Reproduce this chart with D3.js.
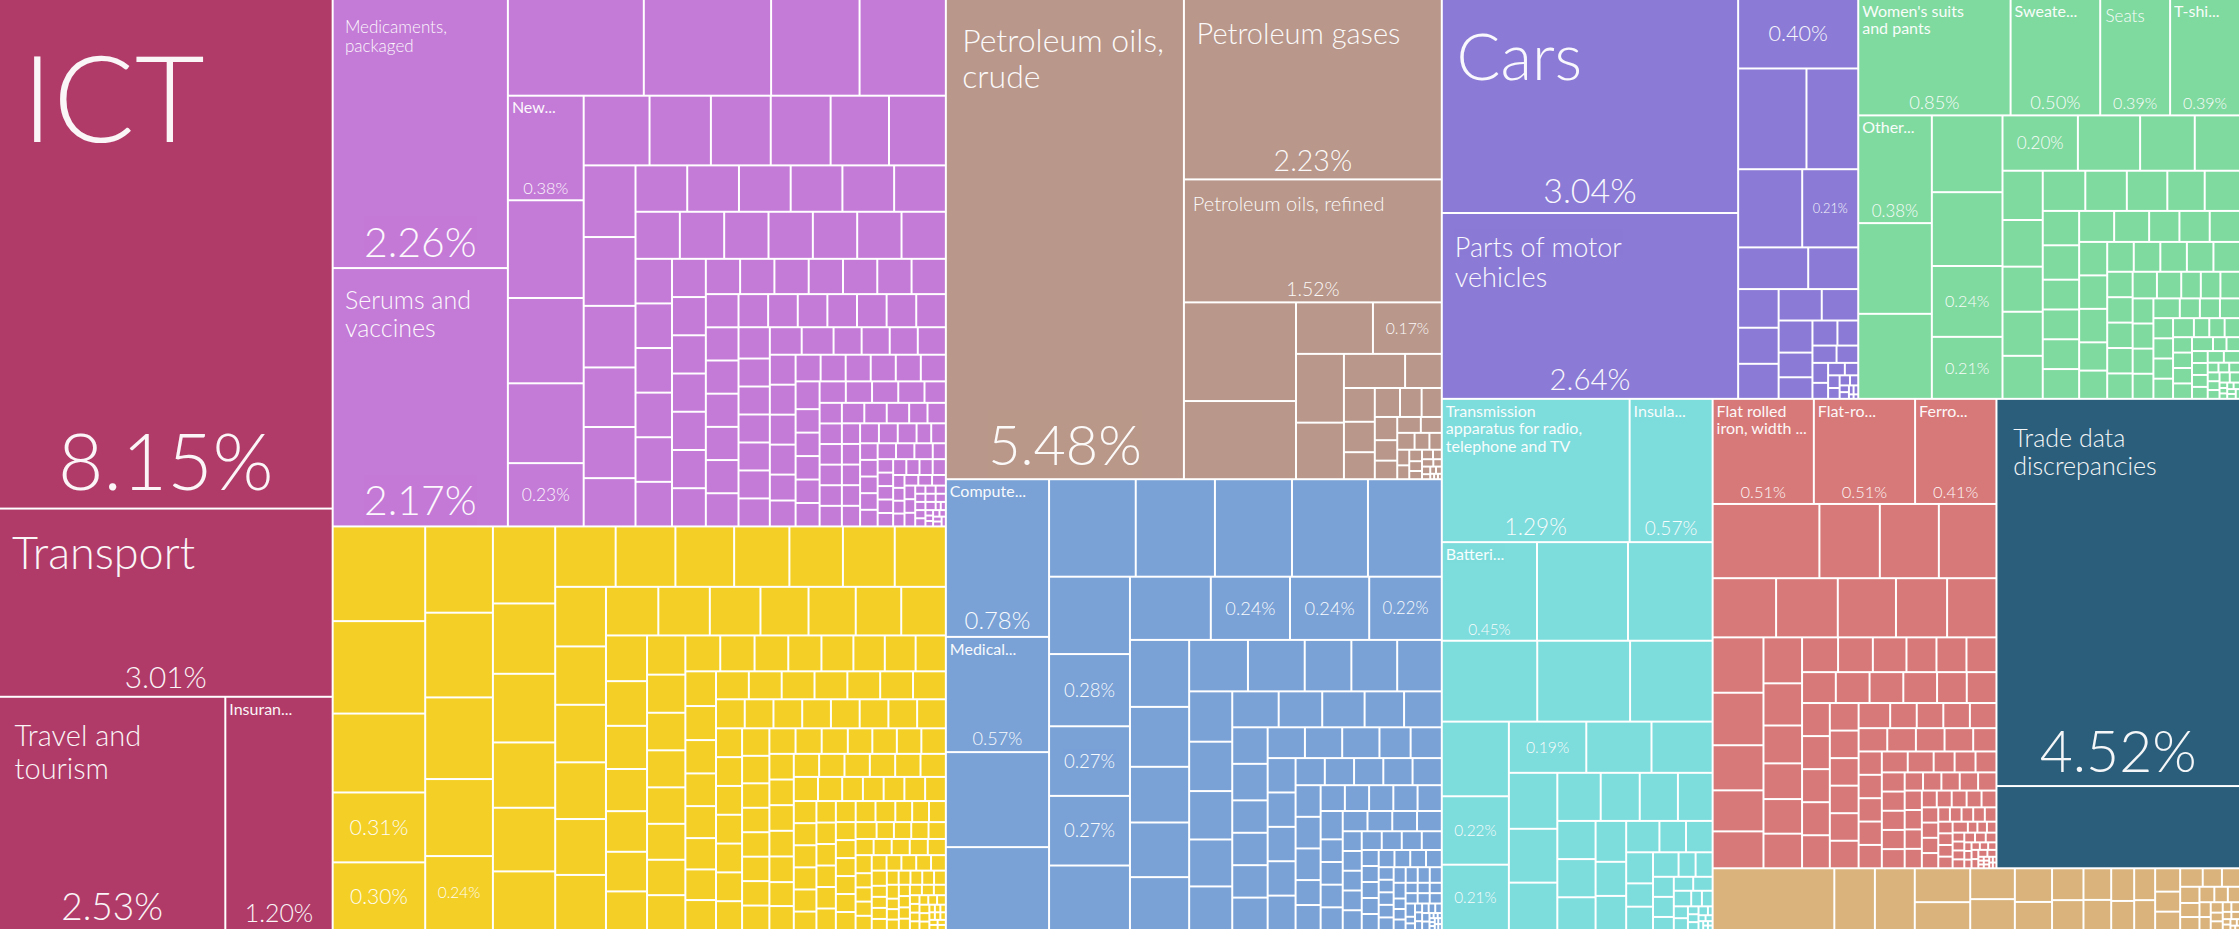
<!DOCTYPE html>
<html>
<head>
<meta charset="utf-8">
<script src="https://cdn.jsdelivr.net/npm/d3@7"></script>
<style>
  html, body { margin: 0; padding: 0; background: #fff; }
  svg { display: block; }
  text { font-family: "Source Sans Pro", Lato, "Noto Sans", sans-serif; fill: #fff; }
</style>
</head>
<body>
<div id="chart"></div>
<script>
var width = 2239;
var height = 929;

// Sector names and colours
var sectorNames = ["Services", "Chemicals", "Agriculture", "Minerals", "Machinery", "Vehicles",
  "Textiles", "Electronics", "Metals", "Other", "Stone"];
var sectorColors = ["#b03b69", "#c47ad7", "#f4d026", "#b9978a", "#7aa2d7", "#8b7bd6",
  "#7fdaa0", "#7ddcdc", "#d87979", "#2b5e7b", "#d9b37b"];

// Share of exports (%) for each product, largest first, one list per sector
var servicesValues = [8.15, 3.01, 2.53, 1.20];
var servicesTitles = ["ICT", "Transport", "Travel and tourism", "Insuran..."];
var servicesShares = [];

var chemicalsValues = [2.26, 2.17, 0.63, 0.59, 0.41, 0.40, 0.38, 0.355, 0.31, 0.29, 0.23,
  0.22, 0.205, 0.20, 0.20, 0.195, 0.19,
  0.178, 0.171, 0.153, 0.148, 0.127, 0.12,
  0.115, 0.115, 0.115, 0.115, 0.115, 0.115,
  0.10, 0.10, 0.10, 0.10, 0.10, 0.10, 0.10,
  0.078, 0.078, 0.078, 0.078, 0.078, 0.078,
  0.062, 0.062, 0.062, 0.062, 0.062, 0.062, 0.062,
  0.058, 0.058, 0.058, 0.058, 0.058, 0.058, 0.058,
  0.052, 0.052, 0.052, 0.052, 0.052, 0.052, 0.052,
  0.047, 0.047, 0.047, 0.047, 0.047, 0.047, 0.047, 0.047,
  0.042, 0.042, 0.042, 0.042, 0.042, 0.042, 0.042, 0.042,
  0.037, 0.037, 0.037, 0.037, 0.037, 0.037, 0.037, 0.037,
  0.032, 0.032, 0.032, 0.032, 0.032, 0.032, 0.032, 0.032, 0.032,
  0.027, 0.027, 0.027, 0.027, 0.027, 0.027, 0.027, 0.027, 0.027,
  0.022, 0.022, 0.022, 0.022, 0.022, 0.022, 0.022, 0.022, 0.022, 0.022,
  0.018, 0.018, 0.018, 0.018, 0.018, 0.018, 0.018, 0.018, 0.018, 0.018,
  0.014, 0.014, 0.014, 0.014, 0.014, 0.014, 0.014, 0.014, 0.014, 0.014,
  0.010, 0.010, 0.010, 0.010, 0.010, 0.010, 0.010, 0.010, 0.010, 0.010,
  0.007, 0.007, 0.007, 0.007, 0.007, 0.007, 0.007, 0.007, 0.007, 0.007,
  0.004, 0.004, 0.004, 0.004, 0.004, 0.004, 0.004, 0.004, 0.004, 0.004,
  0.002, 0.002, 0.002, 0.002, 0.002, 0.002, 0.002, 0.002, 0.002, 0.002];
var chemicalsTitles = ["Medicaments, packaged", "Serums and vaccines", null, null, null, null, "New..."];
var chemicalsShares = [10];

var agricultureValues = [0.42, 0.41, 0.35, 0.31, 0.30,
  0.28, 0.275, 0.265, 0.25, 0.24,
  0.23, 0.21, 0.205, 0.195, 0.19, 0.175,
  0.175, 0.173, 0.17, 0.16, 0.155, 0.15, 0.148,
  0.145, 0.142, 0.14, 0.138, 0.136, 0.134,
  0.122, 0.12, 0.118, 0.112, 0.11, 0.106, 0.104,
  0.09, 0.088, 0.085, 0.083, 0.08, 0.078, 0.076,
  0.072, 0.07, 0.069, 0.068, 0.067, 0.066, 0.065, 0.064,
  0.06, 0.059, 0.058, 0.057, 0.055, 0.054, 0.053,
  0.052, 0.051, 0.05, 0.049, 0.048, 0.047, 0.046, 0.045,
  0.044, 0.044, 0.044, 0.044, 0.044, 0.044, 0.044, 0.044,
  0.040, 0.040, 0.040, 0.040, 0.040, 0.040, 0.040, 0.040,
  0.036, 0.036, 0.036, 0.036, 0.036, 0.036, 0.036, 0.036, 0.036,
  0.032, 0.032, 0.032, 0.032, 0.032, 0.032, 0.032, 0.032, 0.032,
  0.030, 0.030, 0.030, 0.030, 0.030, 0.030, 0.030, 0.030, 0.030,
  0.028, 0.028, 0.028, 0.028, 0.028, 0.028, 0.028, 0.028, 0.028, 0.028,
  0.024, 0.024, 0.024, 0.024, 0.024, 0.024, 0.024, 0.024, 0.024, 0.024,
  0.020, 0.020, 0.020, 0.020, 0.020, 0.020, 0.020, 0.020, 0.020, 0.020,
  0.017, 0.017, 0.017, 0.017, 0.017, 0.017, 0.017, 0.017, 0.017, 0.017,
  0.014, 0.014, 0.014, 0.014, 0.014, 0.014, 0.014, 0.014, 0.014, 0.014,
  0.011, 0.011, 0.011, 0.011, 0.011, 0.011, 0.011, 0.011, 0.011, 0.011,
  0.008, 0.008, 0.008, 0.008, 0.008, 0.008, 0.008, 0.008, 0.008, 0.008,
  0.006, 0.006, 0.006, 0.006, 0.006, 0.006, 0.006, 0.006, 0.006, 0.006,
  0.004, 0.004, 0.004, 0.004, 0.004, 0.004, 0.004, 0.004, 0.004, 0.004,
  0.002, 0.002, 0.002, 0.002, 0.002, 0.002, 0.002, 0.002, 0.002, 0.002];
var agricultureTitles = [];
var agricultureShares = [3, 4, 9];

var mineralsValues = [5.48, 2.23, 1.52, 0.53, 0.42, 0.19, 0.17, 0.158, 0.13, 0.10,
  0.06, 0.05, 0.045, 0.04, 0.035, 0.03, 0.028, 0.025, 0.022, 0.02, 0.018, 0.016, 0.014,
  0.012, 0.01, 0.009, 0.008, 0.007, 0.006, 0.005, 0.005, 0.004, 0.004, 0.003, 0.003,
  0.002, 0.002, 0.002, 0.001, 0.001, 0.001];
var mineralsTitles = ["Petroleum oils, crude", "Petroleum gases", "Petroleum oils, refined"];
var mineralsShares = [6];

var machineryValues = [0.78, 0.57, 0.47, 0.41,
  0.405, 0.37, 0.36, 0.355, 0.345,
  0.30, 0.28, 0.27, 0.27, 0.25,
  0.245, 0.24, 0.24, 0.22,
  0.19, 0.17, 0.158, 0.155, 0.15,
  0.145, 0.14, 0.115, 0.113, 0.11,
  0.104, 0.102, 0.10, 0.097, 0.09,
  0.08, 0.075, 0.073, 0.068, 0.065,
  0.062, 0.062,
  0.055, 0.055, 0.055, 0.055, 0.055, 0.055, 0.055,
  0.046, 0.046, 0.046, 0.046, 0.046, 0.046, 0.046,
  0.038, 0.038, 0.038, 0.038, 0.038, 0.038, 0.038, 0.038,
  0.030, 0.030, 0.030, 0.030, 0.030, 0.030, 0.030, 0.030,
  0.024, 0.024, 0.024, 0.024, 0.024, 0.024, 0.024, 0.024,
  0.018, 0.018, 0.018, 0.018, 0.018, 0.018, 0.018, 0.018, 0.018,
  0.013, 0.013, 0.013, 0.013, 0.013, 0.013, 0.013, 0.013, 0.013,
  0.009, 0.009, 0.009, 0.009, 0.009, 0.009, 0.009, 0.009, 0.009, 0.009,
  0.006, 0.006, 0.006, 0.006, 0.006, 0.006, 0.006, 0.006, 0.006, 0.006,
  0.003, 0.003, 0.003, 0.003, 0.003, 0.003, 0.003, 0.003, 0.003, 0.003,
  0.001, 0.001, 0.001, 0.001, 0.001, 0.001, 0.001, 0.001, 0.001, 0.001];
var machineryTitles = ["Compute...", "Medical..."];
var machineryShares = [10, 11, 12, 15, 16, 17];

var vehiclesValues = [3.04, 2.64, 0.40, 0.33, 0.25, 0.24, 0.21, 0.14, 0.10, 0.075, 0.07,
  0.068, 0.065, 0.055, 0.052, 0.04, 0.035, 0.03, 0.025, 0.02, 0.018, 0.015, 0.012, 0.01,
  0.008, 0.007, 0.006, 0.005, 0.004, 0.003, 0.003, 0.002, 0.002, 0.001, 0.001];
var vehiclesTitles = ["Cars", "Parts of motor vehicles"];
var vehiclesShares = [2, 6];

var textilesValues = [0.85, 0.50, 0.39, 0.39, 0.38, 0.32, 0.30, 0.26, 0.25, 0.24, 0.21,
  0.20, 0.165, 0.145, 0.12, 0.095, 0.09, 0.087, 0.085, 0.083, 0.082, 0.08, 0.078, 0.072, 0.068,
  0.06, 0.06,
  0.052, 0.052, 0.052, 0.052, 0.052, 0.052,
  0.045, 0.045, 0.045, 0.045, 0.045, 0.045,
  0.038, 0.038, 0.038, 0.038, 0.038, 0.038, 0.038,
  0.031, 0.031, 0.031, 0.031, 0.031, 0.031, 0.031,
  0.025, 0.025, 0.025, 0.025, 0.025, 0.025, 0.025, 0.025,
  0.019, 0.019, 0.019, 0.019, 0.019, 0.019, 0.019, 0.019,
  0.014, 0.014, 0.014, 0.014, 0.014, 0.014, 0.014, 0.014,
  0.009, 0.009, 0.009, 0.009, 0.009, 0.009, 0.009, 0.009,
  0.005, 0.005, 0.005, 0.005, 0.005, 0.005, 0.005, 0.005,
  0.002, 0.002, 0.002, 0.002, 0.002, 0.002, 0.002, 0.002];
var textilesTitles = ["Women's suits and pants", "Sweate...", "Seats", "T-shi...", "Other..."];
var textilesShares = [9, 10, 11];

var electronicsValues = [1.29, 0.57, 0.45, 0.43, 0.40, 0.37, 0.36, 0.32, 0.24, 0.22, 0.21,
  0.19, 0.16, 0.15, 0.13, 0.125, 0.11, 0.10, 0.09, 0.088, 0.08,
  0.07, 0.07, 0.06, 0.06, 0.05, 0.05, 0.05, 0.04, 0.04, 0.04, 0.03, 0.03, 0.03,
  0.02, 0.02, 0.02, 0.02, 0.013, 0.013, 0.013, 0.013, 0.008, 0.008, 0.008, 0.008,
  0.004, 0.004, 0.004, 0.004, 0.002, 0.002, 0.002, 0.002, 0.001, 0.001, 0.001, 0.001];
var electronicsTitles = ["Transmission apparatus for radio, telephone and TV", "Insula...", "Batteri..."];
var electronicsShares = [9, 10, 11];

var metalsValues = [0.51, 0.51, 0.41, 0.38, 0.215, 0.21, 0.205, 0.18, 0.175, 0.165, 0.145,
  0.14, 0.135, 0.128, 0.11, 0.10, 0.09, 0.085, 0.078, 0.07, 0.066, 0.064, 0.064, 0.06,
  0.058, 0.056,
  0.05, 0.05, 0.05, 0.05, 0.05, 0.05, 0.05,
  0.044, 0.044, 0.044, 0.044, 0.044, 0.044, 0.044,
  0.038, 0.038, 0.038, 0.038, 0.038, 0.038, 0.038,
  0.032, 0.032, 0.032, 0.032, 0.032, 0.032, 0.032, 0.032,
  0.026, 0.026, 0.026, 0.026, 0.026, 0.026, 0.026, 0.026,
  0.021, 0.021, 0.021, 0.021, 0.021, 0.021, 0.021, 0.021,
  0.016, 0.016, 0.016, 0.016, 0.016, 0.016, 0.016, 0.016, 0.016,
  0.012, 0.012, 0.012, 0.012, 0.012, 0.012, 0.012, 0.012, 0.012,
  0.008, 0.008, 0.008, 0.008, 0.008, 0.008, 0.008, 0.008, 0.008, 0.008,
  0.005, 0.005, 0.005, 0.005, 0.005, 0.005, 0.005, 0.005, 0.005, 0.005,
  0.003, 0.003, 0.003, 0.003, 0.003, 0.003, 0.003, 0.003, 0.003, 0.003,
  0.001, 0.001, 0.001, 0.001, 0.001, 0.001, 0.001, 0.001, 0.001, 0.001];
var metalsTitles = ["Flat rolled iron, width ...", "Flat-ro...", "Ferro..."];
var metalsShares = [];

var otherValues = [4.52, 0.96];
var otherTitles = ["Trade data discrepancies"];
var otherShares = [];

var stoneValues = [0.36, 0.12, 0.118, 0.09, 0.074, 0.066, 0.066, 0.06, 0.05, 0.048, 0.045,
  0.042, 0.04, 0.036, 0.032, 0.032, 0.03, 0.028, 0.024, 0.022, 0.02, 0.017, 0.016, 0.015,
  0.013, 0.012, 0.011, 0.01, 0.009, 0.008, 0.007, 0.006, 0.005, 0.005, 0.004, 0.004,
  0.003, 0.003, 0.002, 0.002, 0.002, 0.001, 0.001, 0.001];
var stoneTitles = [];
var stoneShares = [];

// Build one node per sector from its lists
function sectorNode(i, values, titles, shares) {
  return {
    name: sectorNames[i],
    color: sectorColors[i],
    children: values.map(function(v, j) {
      return {value: v, title: titles[j] || null, share: shares.indexOf(j) >= 0};
    })
  };
}

var services = sectorNode(0, servicesValues, servicesTitles, servicesShares);
var chemicals = sectorNode(1, chemicalsValues, chemicalsTitles, chemicalsShares);
var agriculture = sectorNode(2, agricultureValues, agricultureTitles, agricultureShares);
var minerals = sectorNode(3, mineralsValues, mineralsTitles, mineralsShares);
var machinery = sectorNode(4, machineryValues, machineryTitles, machineryShares);
var vehicles = sectorNode(5, vehiclesValues, vehiclesTitles, vehiclesShares);
var textiles = sectorNode(6, textilesValues, textilesTitles, textilesShares);
var electronics = sectorNode(7, electronicsValues, electronicsTitles, electronicsShares);
var metals = sectorNode(8, metalsValues, metalsTitles, metalsShares);
var other = sectorNode(9, otherValues, otherTitles, otherShares);
var stone = sectorNode(10, stoneValues, stoneTitles, stoneShares);

// Arrangement of the sectors: columns and rows, products are squarified inside
var tree = {tile: "dice", children: [
  services,
  {tile: "slice", children: [chemicals, agriculture]},
  {tile: "slice", children: [minerals, machinery]},
  {tile: "slice", children: [
    {tile: "dice", children: [vehicles, textiles]},
    {tile: "dice", children: [electronics, {tile: "slice", children: [
      {tile: "dice", children: [metals, other]},
      stone
    ]}]}
  ]}
]};

// Plain squarify (aspect ratio 1) for the products inside a sector
var squarify = d3.treemapSquarify.ratio(1);

function tile(node, x0, y0, x1, y1) {
  var t = node.data.tile;
  if (t == "dice") d3.treemapDice(node, x0, y0, x1, y1);
  else if (t == "slice") d3.treemapSlice(node, x0, y0, x1, y1);
  else squarify(node, x0, y0, x1, y1);
}

var root = d3.hierarchy(tree).sum(function(d) { return d.value || 0; });
d3.treemap().size([width, height]).paddingInner(2).tile(tile)(root);

var svg = d3.select("#chart").append("svg")
    .attr("width", width)
    .attr("height", height);
var defs = svg.append("defs");

var leaves = root.leaves();

// Draw every product cell
svg.append("g").selectAll("rect")
  .data(leaves)
  .join("rect")
    .attr("x", function(d) { return d.x0; })
    .attr("y", function(d) { return d.y0; })
    .attr("width", function(d) { return Math.max(0, d.x1 - d.x0); })
    .attr("height", function(d) { return Math.max(0, d.y1 - d.y0); })
    .attr("fill", function(d) { return d.parent.data.color; });

// Hidden text used to measure strings
var ruler = svg.append("text").attr("x", -2000).attr("y", -2000).style("font-size", "100px");
function textWidth(str, weight) {
  ruler.style("font-weight", weight).text(str);
  return ruler.node().getComputedTextLength() / 100;
}

function wrap(words, fs, maxW, weight) {
  var lines = [], line = "";
  words.forEach(function(w) {
    var test = line ? line + " " + w : w;
    if (line && textWidth(test, weight) * fs > maxW) {
      lines.push(line);
      line = w;
    } else {
      line = test;
    }
  });
  if (line) lines.push(line);
  return lines;
}

// Pick a title size that fills the box, or fall back to a small label
function fitTitle(title, w, h) {
  var words = title.split(" ");
  var m = Math.min(w, h);
  if (title.slice(-3) != "...") {
    var total = textWidth(title, 300);
    var widest = d3.max(words, function(t) { return textWidth(t, 300); });
    var fs = Math.floor(Math.min(Math.sqrt(0.16 * w * h / (total * 1.2)), 0.6 * w / widest));
    while (fs >= 17) {
      var lines = wrap(words, fs, 0.88 * w, 300);
      if (lines.length * 1.12 * fs <= 0.5 * h) {
        return {size: fs, lines: lines, weight: 300, padX: 0.065 * m, padY: 0.1 * m + 0.1 * fs};
      }
      fs -= 1;
    }
  }
  // small label: narrow wrap first, wider if it needs too many lines
  var small = 16;
  var maxLines = Math.max(1, Math.floor(0.45 * h / (small * 1.1)));
  var lines2 = wrap(words, small, 0.8 * w, 400);
  if (lines2.length > maxLines) lines2 = wrap(words, small, w - 8, 400);
  return {size: small, lines: lines2, weight: 400, padX: 3, padY: 4};
}

var fmt = d3.format(".2f");

leaves.filter(function(d) { return d.data.title || d.data.share; })
  .forEach(function(d, i) {
    var w = d.x1 - d.x0, h = d.y1 - d.y0;
    defs.append("clipPath").attr("id", "clip" + i)
      .append("rect")
        .attr("x", d.x0).attr("y", d.y0)
        .attr("width", w).attr("height", h);
    var g = svg.append("g").attr("clip-path", "url(#clip" + i + ")");

    var share = fmt(d.value) + "%";
    var sw = textWidth(share, 300);

    if (d.data.title) {
      var t = fitTitle(d.data.title, w, h);
      var lh = t.size * (t.weight == 300 ? 1.12 : 1.1);
      var txt = g.append("text")
        .style("font-size", t.size + "px")
        .style("font-weight", t.weight)
        .attr("opacity", 0.95);
      t.lines.forEach(function(line, k) {
        txt.append("tspan")
          .attr("x", d.x0 + t.padX)
          .attr("y", d.y0 + t.padY + t.size * 0.8 + k * lh)
          .text(line);
      });

      var fs = Math.min(0.16 * h, 0.65 * w / sw);
      g.append("text")
        .attr("x", (d.x0 + d.x1) / 2)
        .attr("y", d.y1 - 0.2 * fs - 2)
        .attr("text-anchor", "middle")
        .style("font-size", fs + "px")
        .style("font-weight", 300)
        .attr("opacity", 0.95)
        .text(share);
    } else {
      var fs2 = Math.min(0.32 * h, 0.65 * w / sw);
      g.append("text")
        .attr("x", (d.x0 + d.x1) / 2)
        .attr("y", (d.y0 + d.y1) / 2 + 0.35 * fs2)
        .attr("text-anchor", "middle")
        .style("font-size", fs2 + "px")
        .style("font-weight", 300)
        .attr("opacity", 0.95)
        .text(share);
    }
  });

ruler.remove();
</script>
</body>
</html>
